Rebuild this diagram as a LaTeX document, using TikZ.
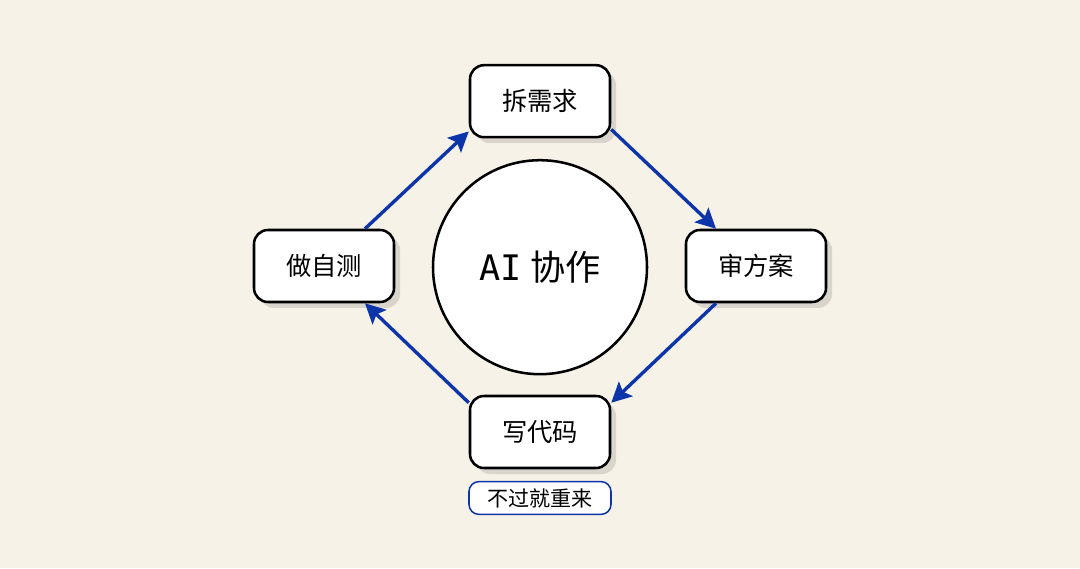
\documentclass[tikz,border=0pt]{standalone}
\usepackage{fontspec}
\setmainfont{Noto Sans CJK SC}
\newfontfamily\aifont{DejaVu Sans Mono}
\usetikzlibrary{arrows.meta}
\usetikzlibrary{shadows}
\definecolor{bgcream}{HTML}{F6F2E8}
\definecolor{flowblue}{HTML}{0D34A8}
\definecolor{shadowgray}{HTML}{D9D5CC}

\tikzset{
  stepbox/.style={draw=black, line width=1.8pt, fill=white, rounded corners=0.35cm,
    minimum width=3.5cm, minimum height=1.8cm,
    font=\fontsize{18}{21}\selectfont,
    drop shadow={shadow xshift=0.15cm, shadow yshift=-0.15cm, fill=shadowgray, opacity=1}},
  hub/.style={draw=black, line width=1.8pt, fill=white, circle, minimum size=5.35cm,
    font=\fontsize{25}{30}\selectfont},
  tag/.style={draw=flowblue, line width=1.1pt, fill=white, rounded corners=0.25cm,
    minimum width=3.55cm, minimum height=0.82cm, font=\fontsize{15}{18}\selectfont},
  flow/.style={draw=flowblue, line width=2.4pt, -{Stealth[length=0.5cm, width=0.5cm, inset=0.1cm]}}
}

\begin{document}
\begin{tikzpicture}
	\fill[bgcream] (0,0) rectangle (27,14.2);
	\useasboundingbox (0,0) rectangle (27,14.2);

	% the loop
	\node[hub] (ai) at (13.5,7.52) {{\aifont AI}\hspace{0.25em}协作};
	\node[stepbox] (chai) at (13.5,11.67) {拆需求};
	\node[stepbox] (shen) at (18.9,7.55) {审方案};
	\node[stepbox] (xie) at (13.5,3.4) {写代码};
	\node[stepbox] (zuo) at (8.1,7.55) {做自测};
	\node[tag] (redo) at (13.5,1.75) {不过就重来};

	\draw[flow] ([xshift=1.025cm]zuo.north) -- ([yshift=0.175cm]chai.south west);
	\draw[flow] ([yshift=0.225cm]chai.south east) -- ([xshift=-1cm]shen.north);
	\draw[flow] ([xshift=-1cm]shen.south) -- ([yshift=-0.2cm]xie.north east);
	\draw[flow] ([yshift=-0.2cm]xie.north west) -- ([xshift=1.025cm]zuo.south);
\end{tikzpicture}
\end{document}
